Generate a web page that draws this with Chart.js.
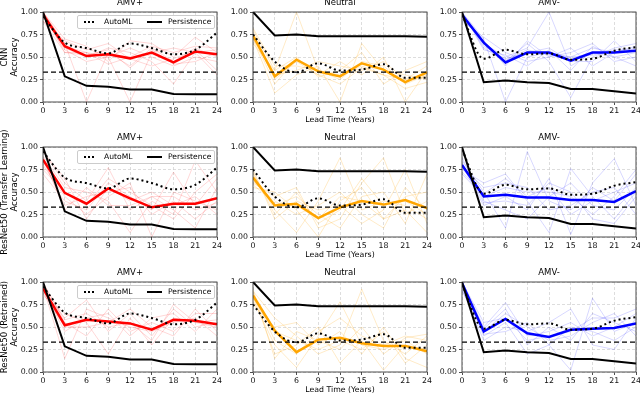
<!DOCTYPE html>
<html lang="en">
<head>
<meta charset="UTF-8">
<title>Accuracy by lead time</title>
<script src="https://cdn.jsdelivr.net/npm/chart.js"></script>
<style>
    html, body {
        margin: 0;
        padding: 0;
    }

    body {
        position: relative;
        width: 640px;
        height: 396px;
        overflow: hidden;
        background: #fff;
        font-family: "DejaVu Sans", sans-serif;
        color: #000;
    }

    .panel {
        position: absolute;
        width: 225px;
        height: 137px;
    }

    .legend {
        position: absolute;
        left: 77px;
        width: 136px;
        height: 12px;
        border: 1px solid #ccc;
        border-radius: 2px;
        background: rgba(255, 255, 255, 0.85);
        font-size: 7.6px;
        line-height: 12px;
        z-index: 5;
    }

    .legend span {
        position: absolute;
    }

    .legend .dots {
        left: 6px;
        top: 5px;
        width: 10px;
        border-top: 2px dotted #000;
    }

    .legend .solid {
        left: 69px;
        top: 5px;
        width: 15px;
        border-top: 2px solid #000;
    }
</style>
</head>
<body>
<script>
    const leads = [0, 3, 6, 9, 12, 15, 18, 21, 24];
    const yTicks = [0, 0.25, 0.5, 0.75, 1];
    const chance = 0.333;

    const classNames = ['AMV+', 'Neutral', 'AMV-'];
    const classColors = ['#ff0000', '#ffa500', '#0000ff'];
    const memberColors = ['rgba(255,0,0,0.2)', 'rgba(255,165,0,0.28)', 'rgba(0,0,255,0.2)'];
    const rowLabels = [
        ['CNN', 'Accuracy'],
        ['ResNet50 (Transfer Learning)', 'Accuracy'],
        ['ResNet50 (Retrained)', 'Accuracy']
    ];

    // baselines (same in every row)
    const persistAmvPlus = [1.0, 0.285, 0.18, 0.17, 0.14, 0.14, 0.09, 0.085, 0.085];
    const persistNeutral = [1.0, 0.74, 0.75, 0.73, 0.73, 0.73, 0.73, 0.73, 0.725];
    const persistAmvMinus = [1.0, 0.22, 0.24, 0.22, 0.21, 0.145, 0.145, 0.12, 0.095];

    const automlAmvPlus = [0.95, 0.66, 0.60, 0.54, 0.65, 0.60, 0.53, 0.58, 0.77];
    const automlNeutral = [0.75, 0.45, 0.33, 0.43, 0.35, 0.36, 0.42, 0.27, 0.27];
    const automlAmvMinus = [0.97, 0.48, 0.58, 0.53, 0.54, 0.47, 0.48, 0.57, 0.61];

    // ensemble means
    const meanCnnAmvPlus = [0.97, 0.62, 0.51, 0.53, 0.485, 0.55, 0.44, 0.56, 0.53];
    const meanCnnNeutral = [0.74, 0.285, 0.47, 0.34, 0.285, 0.43, 0.36, 0.22, 0.33];
    const meanCnnAmvMinus = [0.97, 0.66, 0.44, 0.55, 0.55, 0.46, 0.55, 0.55, 0.57];
    const meanTlAmvPlus = [0.86, 0.49, 0.37, 0.54, 0.43, 0.33, 0.37, 0.37, 0.43];
    const meanTlNeutral = [0.66, 0.35, 0.37, 0.21, 0.33, 0.40, 0.36, 0.41, 0.32];
    const meanTlAmvMinus = [0.80, 0.45, 0.47, 0.44, 0.44, 0.41, 0.41, 0.39, 0.51];
    const meanRtAmvPlus = [0.93, 0.52, 0.58, 0.56, 0.54, 0.47, 0.58, 0.57, 0.53];
    const meanRtNeutral = [0.85, 0.46, 0.22, 0.36, 0.38, 0.32, 0.29, 0.29, 0.23];
    const meanRtAmvMinus = [0.99, 0.45, 0.59, 0.43, 0.39, 0.47, 0.48, 0.49, 0.54];

    // individual ensemble members (faint lines)
    const membersCnnAmvPlus = [
        [1.00, 0.70, 0.62, 0.45, 0.68, 0.65, 0.50, 0.72, 0.55],
        [1.00, 0.65, 0.00, 0.55, 0.40, 0.60, 0.45, 0.60, 0.50],
        [0.90, 0.55, 0.55, 0.50, 0.00, 0.55, 0.60, 0.55, 0.30],
        [1.00, 0.60, 0.50, 0.60, 0.55, 0.45, 0.20, 0.55, 0.58],
        [0.95, 0.58, 0.45, 0.50, 0.60, 0.50, 0.40, 0.50, 0.45],
        [1.00, 0.62, 0.55, 0.42, 0.50, 0.62, 0.55, 0.62, 0.60],
        [0.90, 0.68, 0.58, 0.65, 0.48, 0.40, 0.48, 0.58, 0.35],
        [1.00, 0.55, 0.52, 0.58, 0.38, 0.58, 0.42, 0.45, 0.55]
    ];
    const membersCnnNeutral = [
        [0.80, 0.35, 1.00, 0.35, 0.30, 0.40, 0.30, 0.25, 0.40],
        [0.70, 0.10, 0.30, 0.40, 0.00, 0.65, 0.35, 0.30, 0.25],
        [0.75, 0.25, 0.45, 0.30, 0.45, 0.30, 0.50, 0.00, 0.35],
        [0.65, 0.35, 0.50, 0.28, 0.35, 0.55, 0.20, 0.35, 0.45],
        [0.82, 0.40, 0.40, 0.35, 0.25, 0.45, 0.40, 0.20, 0.30],
        [0.70, 0.30, 0.35, 0.45, 0.40, 0.35, 0.45, 0.25, 0.28],
        [0.72, 0.20, 0.48, 0.30, 0.20, 0.38, 0.30, 0.15, 0.22]
    ];
    const membersCnnAmvMinus = [
        [1.00, 0.70, 0.00, 0.50, 0.55, 0.50, 0.60, 0.55, 0.60],
        [0.95, 0.65, 0.50, 0.60, 1.00, 0.40, 0.55, 0.50, 0.55],
        [1.00, 0.60, 0.45, 0.65, 0.45, 0.05, 0.50, 0.60, 0.65],
        [0.90, 0.72, 0.55, 0.45, 0.50, 0.55, 0.65, 0.45, 0.50],
        [0.98, 0.62, 0.48, 0.55, 0.60, 0.45, 0.45, 0.68, 0.45],
        [0.92, 0.68, 0.40, 0.68, 0.50, 0.60, 0.40, 0.55, 0.62],
        [1.00, 0.58, 0.52, 0.40, 0.58, 0.35, 0.62, 0.50, 0.40],
        [0.95, 0.66, 0.46, 0.58, 0.52, 0.50, 0.52, 0.58, 0.58]
    ];
    const membersTlAmvPlus = [
        [0.95, 0.60, 0.40, 0.77, 0.30, 0.45, 0.30, 0.10, 0.55],
        [0.80, 0.45, 0.25, 0.45, 0.60, 0.00, 0.50, 0.40, 0.30],
        [0.90, 0.55, 0.50, 0.40, 0.05, 0.40, 0.25, 0.85, 0.50],
        [0.70, 0.40, 0.30, 0.60, 0.45, 0.30, 0.72, 0.35, 0.65],
        [0.85, 0.35, 0.45, 0.50, 0.55, 0.25, 0.40, 0.20, 0.40],
        [0.95, 0.65, 0.20, 0.55, 0.40, 0.50, 0.35, 0.45, 0.25],
        [0.75, 0.50, 0.35, 0.65, 0.50, 0.35, 0.20, 0.50, 0.70],
        [0.88, 0.30, 0.55, 0.35, 0.35, 0.45, 0.45, 0.30, 0.38]
    ];
    const membersTlNeutral = [
        [0.70, 0.30, 0.05, 0.40, 0.88, 0.30, 0.40, 0.35, 0.20],
        [0.60, 0.45, 0.55, 0.10, 0.20, 0.60, 0.88, 0.25, 0.40],
        [0.75, 0.20, 0.40, 0.30, 0.35, 0.15, 0.30, 0.75, 0.15],
        [0.55, 0.50, 0.30, 0.00, 0.40, 0.55, 0.20, 0.45, 0.50],
        [0.68, 0.35, 0.45, 0.25, 0.10, 0.45, 0.50, 0.15, 0.70],
        [0.62, 0.40, 0.25, 0.35, 0.50, 0.25, 0.10, 0.55, 0.30],
        [0.72, 0.25, 0.50, 0.15, 0.30, 0.65, 0.35, 0.40, 0.25],
        [0.58, 0.38, 0.35, 0.20, 0.45, 0.40, 0.20, 0.30, 0.05]
    ];
    const membersTlAmvMinus = [
        [0.85, 0.50, 0.10, 0.95, 0.40, 0.30, 0.55, 0.40, 0.70],
        [0.75, 0.60, 0.70, 0.40, 0.05, 0.76, 0.45, 0.20, 0.50],
        [0.80, 0.35, 0.45, 0.30, 0.65, 0.03, 0.60, 0.87, 0.35],
        [0.70, 0.45, 0.55, 0.50, 0.50, 0.45, 0.25, 0.45, 0.75],
        [0.88, 0.40, 0.30, 0.20, 0.45, 0.60, 0.35, 0.30, 0.55],
        [0.78, 0.55, 0.60, 0.55, 0.30, 0.35, 0.50, 0.55, 0.25],
        [0.82, 0.38, 0.40, 0.35, 0.60, 0.50, 0.20, 0.15, 0.45],
        [0.72, 0.48, 0.65, 0.45, 0.55, 0.25, 0.40, 0.50, 0.60]
    ];
    const membersRtAmvPlus = [
        [0.95, 0.15, 0.70, 0.60, 0.50, 0.45, 0.55, 0.60, 0.40],
        [0.90, 0.60, 0.80, 0.45, 0.65, 0.40, 0.70, 0.50, 0.55],
        [1.00, 0.55, 0.40, 0.70, 0.45, 0.55, 0.45, 0.65, 0.65],
        [0.85, 0.65, 0.55, 0.20, 0.60, 0.30, 0.60, 0.55, 0.50],
        [0.92, 0.45, 0.60, 0.65, 0.40, 0.60, 0.65, 0.45, 0.70],
        [0.88, 0.50, 0.50, 0.55, 0.70, 0.50, 0.40, 0.70, 0.45],
        [0.98, 0.58, 0.65, 0.50, 0.55, 0.35, 0.75, 0.55, 0.58]
    ];
    const membersRtNeutral = [
        [0.80, 0.30, 0.05, 0.40, 0.78, 0.30, 0.25, 0.35, 0.20],
        [0.90, 0.60, 0.40, 0.20, 0.30, 0.92, 0.35, 0.20, 0.40],
        [0.85, 0.20, 0.30, 0.50, 0.10, 0.35, 0.02, 0.30, 0.25],
        [0.75, 0.50, 0.55, 0.30, 0.45, 0.20, 0.50, 0.15, 0.05],
        [0.88, 0.35, 0.20, 0.45, 0.60, 0.40, 0.30, 0.40, 0.35],
        [0.82, 0.45, 0.35, 0.25, 0.35, 0.25, 0.45, 0.10, 0.30],
        [0.92, 0.15, 0.45, 0.35, 0.25, 0.50, 0.20, 0.38, 0.42]
    ];
    const membersRtAmvMinus = [
        [1.00, 0.50, 0.77, 0.40, 0.45, 0.55, 0.40, 0.50, 0.65],
        [0.95, 0.40, 0.55, 0.20, 0.30, 0.02, 0.82, 0.45, 0.55],
        [0.98, 0.45, 0.65, 0.50, 0.35, 0.40, 0.55, 0.65, 0.40],
        [0.92, 0.35, 0.50, 0.45, 0.55, 0.70, 0.30, 0.25, 0.60],
        [1.00, 0.55, 0.60, 0.35, 0.40, 0.45, 0.60, 0.60, 0.70],
        [0.96, 0.42, 0.45, 0.55, 0.30, 0.50, 0.45, 0.35, 0.50],
        [0.90, 0.48, 0.70, 0.30, 0.50, 0.35, 0.65, 0.55, 0.45]
    ];

    const persists = [persistAmvPlus, persistNeutral, persistAmvMinus];
    const automls = [automlAmvPlus, automlNeutral, automlAmvMinus];
    const means = [
        [meanCnnAmvPlus, meanCnnNeutral, meanCnnAmvMinus],
        [meanTlAmvPlus, meanTlNeutral, meanTlAmvMinus],
        [meanRtAmvPlus, meanRtNeutral, meanRtAmvMinus]
    ];
    const members = [
        [membersCnnAmvPlus, membersCnnNeutral, membersCnnAmvMinus],
        [membersTlAmvPlus, membersTlNeutral, membersTlAmvMinus],
        [membersRtAmvPlus, membersRtNeutral, membersRtAmvMinus]
    ];

    // layout: plot-area left edge per column, top edge per row
    const colLeft = [43, 253, 462];
    const rowTop = [12, 147, 282];
    const yAxisW = 43;
    const titleBlock = 14;
    const topPad = 10; // room for the long row label above the title

    // black frame round the plot area, like matplotlib spines
    const framePlugin = {
        id: 'frame',
        afterDraw(chart) {
            const a = chart.chartArea;
            const ctx = chart.ctx;
            ctx.save();
            ctx.strokeStyle = '#222';
            ctx.lineWidth = 0.8;
            ctx.strokeRect(a.left, a.top, a.right - a.left, a.bottom - a.top);
            ctx.restore();
        }
    };

    const pts = vals => vals.map((v, i) => ({ x: leads[i], y: v }));

    function makePanel(r, c) {
        const wrap = document.createElement('div');
        wrap.className = 'panel';
        wrap.style.left = (colLeft[c] - yAxisW) + 'px';
        wrap.style.top = (rowTop[r] - titleBlock - topPad) + 'px';
        const canvas = document.createElement('canvas');
        wrap.appendChild(canvas);
        document.body.appendChild(wrap);

        const datasets = [
            { data: pts(persists[c]), borderColor: '#000', borderWidth: 2 },
            { data: pts(automls[c]), borderColor: '#000', borderWidth: 2, borderDash: [2, 3], cubicInterpolationMode: 'monotone' },
            { data: [{ x: 0, y: chance }, { x: 24, y: chance }], borderColor: '#000', borderWidth: 1.3, borderDash: [5, 3] },
            { data: pts(means[r][c]), borderColor: classColors[c], borderWidth: 2.5 }
        ];
        members[r][c].forEach(m => datasets.push({ data: pts(m), borderColor: memberColors[c], borderWidth: 0.8 }));

        const tickFont = { family: 'DejaVu Sans', size: 7.8 };
        const gridOpts = { color: '#cfcfcf', lineWidth: 0.7, tickColor: '#222', tickLength: 3, tickWidth: 0.8 };

        new Chart(canvas, {
            type: 'line',
            data: { datasets },
            plugins: [framePlugin],
            options: {
                responsive: true,
                maintainAspectRatio: false,
                animation: false,
                events: [],
                layout: { padding: { left: 0, right: 8, top: topPad, bottom: 0 } },
                elements: { point: { radius: 0 }, line: { tension: 0 } },
                plugins: {
                    legend: { display: false },
                    tooltip: { enabled: false },
                    title: {
                        display: true,
                        text: classNames[c],
                        fullSize: false,
                        color: '#000',
                        font: { family: 'DejaVu Sans', size: 8.5, weight: 'normal' },
                        padding: { top: 0, bottom: 3.8 }
                    }
                },
                scales: {
                    x: {
                        type: 'linear',
                        min: 0,
                        max: 24,
                        afterBuildTicks: s => { s.ticks = leads.map(v => ({ value: v })); },
                        afterFit: s => { s.height = 23; },
                        ticks: { font: tickFont, color: '#111', padding: 1, maxRotation: 0, autoSkip: false },
                        grid: gridOpts,
                        border: { display: false, dash: [3, 2] },
                        title: {
                            display: c === 1,
                            text: 'Lead Time (Years)',
                            color: '#000',
                            font: { family: 'DejaVu Sans', size: 7.8 },
                            padding: 0
                        }
                    },
                    y: {
                        min: 0,
                        max: 1,
                        afterBuildTicks: s => { s.ticks = yTicks.map(v => ({ value: v })); },
                        afterFit: s => { s.width = yAxisW; },
                        ticks: { font: tickFont, color: '#111', padding: 2, callback: v => v.toFixed(2) },
                        grid: gridOpts,
                        border: { display: false, dash: [3, 2] },
                        title: {
                            display: c === 0,
                            text: rowLabels[r],
                            color: '#000',
                            font: { family: 'DejaVu Sans', size: 8.6, lineHeight: 1.15 },
                            padding: { top: 0, bottom: 0 }
                        }
                    }
                }
            }
        });

        if (c === 0) {
            const lg = document.createElement('div');
            lg.className = 'legend';
            lg.style.top = (rowTop[r] + 3) + 'px';
            lg.innerHTML = '<span class="dots"></span><span style="left:26px">AutoML</span>' +
                '<span class="solid"></span><span style="left:90px">Persistence</span>';
            document.body.appendChild(lg);
        }
    }

    for (let r = 0; r < 3; r++) {
        for (let c = 0; c < 3; c++) {
            makePanel(r, c);
        }
    }
</script>
</body>
</html>
